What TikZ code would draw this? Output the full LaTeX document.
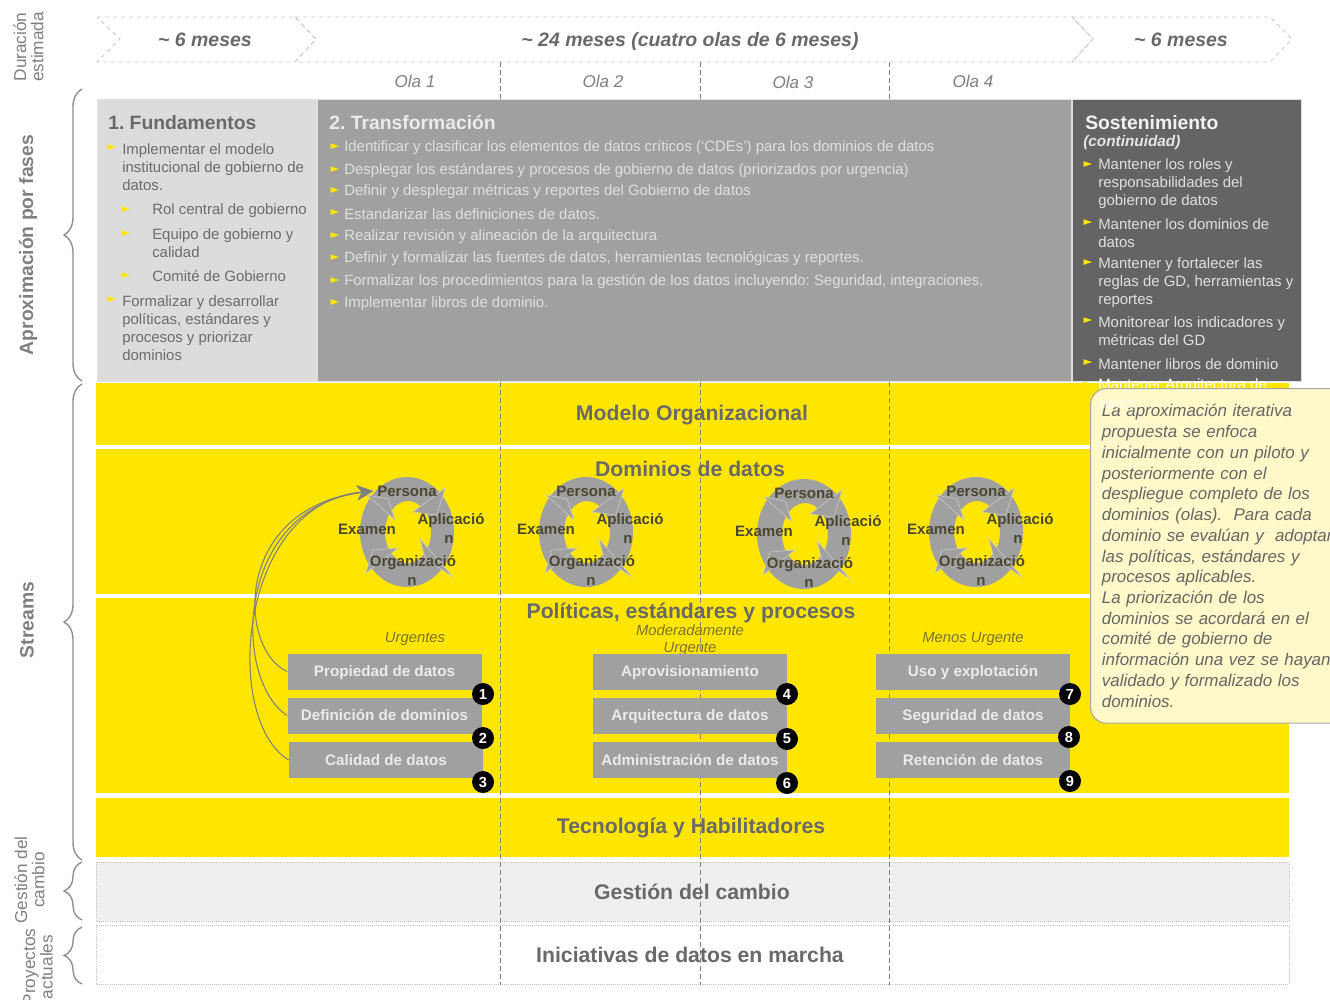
\documentclass[tikz,border=0pt]{standalone}
\usepackage{fontspec}
\setmainfont{Liberation Sans}
\newfontfamily\symfont{DejaVu Sans}
\usetikzlibrary{arrows.meta,decorations.pathreplacing}

\definecolor{bandyellow}{HTML}{FFE600}
\definecolor{phaselight}{HTML}{DCDCDC}
\definecolor{phasemid}{HTML}{A0A0A0}
\definecolor{phasedark}{HTML}{646464}
\definecolor{headgrey}{HTML}{696969}
\definecolor{sidegrey}{HTML}{7F7F7F}
\definecolor{changegrey}{HTML}{EFEFEF}
\definecolor{notefill}{HTML}{FFF9C9}
\definecolor{cycletext}{HTML}{4A4630}
\definecolor{urgtext}{HTML}{7A7235}

\tikzset{
  chevron/.style={draw=black!22,dashed,line width=0.6pt},
  durlabel/.style={font=\fontsize{14.6}{18}\selectfont\bfseries\itshape,text=headgrey},
  olalabel/.style={font=\fontsize{12.8}{15}\selectfont\itshape,text=sidegrey},
  phasebox/.style={draw=black!12,line width=0.6pt},
  phasehead/.style={anchor=west,inner sep=0pt,font=\fontsize{14.5}{18}\selectfont\bfseries},
  bul/.style={inner sep=0pt,text=bandyellow,font=\symfont\fontsize{8.5}{10}\selectfont},
  itemtext/.style={anchor=west,inner sep=0pt,align=left,font=\fontsize{11.2}{13.6}\selectfont},
  bandbox/.style={fill=bandyellow},
  linebox/.style={draw=black!25,densely dotted,line width=0.6pt},
  bandtitle/.style={font=\fontsize{15.9}{18}\selectfont\bfseries,text=headgrey},
  olaline/.style={draw=black!50,dash pattern=on 4pt off 2pt,line width=0.7pt},
  stepbox/.style={fill=phasemid,text=white!92!black,inner sep=0pt,minimum width=145.5pt,minimum height=27pt,text height=8pt,text depth=0pt,font=\fontsize{11.4}{13}\selectfont\bfseries},
  badge/.style={circle,fill=black,text=white,inner sep=0pt,minimum size=16.5pt,font=\fontsize{11}{13}\selectfont\bfseries},
  urglabel/.style={text=urgtext,inner sep=0pt,font=\fontsize{11.1}{13}\selectfont\itshape},
  cyclelabel/.style={text=cycletext,inner sep=0pt,font=\fontsize{11.3}{13}\selectfont\bfseries},
  wedge/.style={fill=phasemid,draw=black!20,line width=0.4pt,line join=miter},
  feedline/.style={draw=black!50,line width=0.8pt,-{Stealth[length=12pt,width=11pt]}},
  sidelabel/.style={rotate=90,align=center,text=sidegrey,inner sep=0pt,font=\fontsize{12.9}{13}\selectfont},
  sidehead/.style={rotate=90,text=sidegrey,inner sep=0pt,font=\fontsize{14.5}{16}\selectfont\bfseries},
  sidebrace/.style={draw=black!45,line width=1pt,decorate,decoration={brace,amplitude=13.5pt}},
  notebox/.style={anchor=north west,draw=black!35,line width=0.8pt,rounded corners=12pt,fill=notefill,
    minimum width=183pt,minimum height=251pt,inner xsep=8.5pt,align=left,text=black!60,
    text width=190pt,font=\fontsize{12.7}{15.55}\selectfont\itshape}
}

% one cycle: ring, four wedges, four words
\newcommand{\ringcycle}[3]{
\begin{scope}[shift={(#1,#2)}]
\fill[phasemid,even odd rule] (0,0) ellipse [x radius=47,y radius=55] (1,0) ellipse [x radius=23,y radius=31];
\path[wedge] (38,-44) -- (6,-20) -- (30,-17) -- cycle;
\path[wedge] (-40,-37) -- (-19,-33) -- (-12,-12) -- cycle;
\path[wedge] (-41,41) -- (-34,18) -- (-9,16) -- cycle;
\path[wedge] (46,45) -- (13,7) -- (18,26) -- cycle;
\path[draw] (0,-41) node[cyclelabel] (#3per) {Persona};
\path[draw] (44,-11) node[cyclelabel] (#3apl) {Aplicació};
\path[draw] (42,7) node[cyclelabel] (#3apn) {n};
\path[draw] (-40,-3) node[cyclelabel] (#3exa) {Examen};
\path[draw] (6,31) node[cyclelabel] (#3org) {Organizació};
\path[draw] (5,49) node[cyclelabel] (#3orn) {n};
\end{scope}
}

\begin{document}
\begin{tikzpicture}[x=0.75pt,y=-0.75pt]
\frenchspacing
\useasboundingbox (0,0) rectangle (1330,999);

%%% DURATION
\path[chevron] (97,17) -- (295,17) -- (316,39) -- (295,62) -- (97,62) -- (120,39) -- cycle;
\path[chevron] (295,17) -- (1072,17) -- (1093,39) -- (1072,62) -- (295,62) -- (316,39) -- cycle;
\path[chevron] (1072,17) -- (1270,17) -- (1292,39) -- (1270,62) -- (1072,62) -- (1093,39) -- cycle;
\path[draw] (205,40) node[durlabel] (nodeDurA) {\textasciitilde\ 6 meses};
\path[draw] (690,41) node[durlabel] (nodeDurB) {\textasciitilde\ 24 meses (cuatro olas de 6 meses)};
\path[draw] (1181,40) node[durlabel] (nodeDurC) {\textasciitilde\ 6 meses};
\path[draw] (415,81) node[olalabel] (nodeOlaA) {Ola 1};
\path[draw] (603,81) node[olalabel] (nodeOlaB) {Ola 2};
\path[draw] (793,82) node[olalabel] (nodeOlaC) {Ola 3};
\path[draw] (973,81) node[olalabel] (nodeOlaD) {Ola 4};

%%% STREAM BANDS
\path[bandbox] (96,383) rectangle (1289,445);
\path[bandbox] (96,449) rectangle (1289,594);
\path[bandbox] (96,598) rectangle (1289,793);
\path[bandbox] (96,798) rectangle (1289,857);
\path[linebox,fill=changegrey] (96,862) rectangle (1289,921);
\path[linebox,fill=white] (96,925) rectangle (1289,984);

%%% WAVE LINES
\coordinate (lineAtop) at (500.5,62);
\coordinate (lineAbot) at (500.5,985);
\coordinate (lineBtop) at (700,62);
\coordinate (lineBbot) at (700,985);
\coordinate (lineCtop) at (889.5,62);
\coordinate (lineCbot) at (889.5,985);
\path[olaline] (lineAtop) -- (lineAbot);
\path[olaline] (lineBtop) -- (lineBbot);
\path[olaline] (lineCtop) -- (lineCbot);

%%% PHASE 1
\path[phasebox,fill=phaselight] (97,99) rectangle (316.5,381);
\path[draw] (108,123) node[phasehead,text=headgrey] (nodeFund) {1. Fundamentos};
\path[draw] (112,148) node[bul] (bulFa) {►};
\path[draw] (122,167.5) node[itemtext,text=black!58] (itemFa) {Implementar el modelo\\institucional de gobierno de\\datos.};
\path[draw] (126,210) node[bul] (bulFb) {►};
\path[draw] (152,210.5) node[itemtext,text=black!58] (itemFb) {Rol central de gobierno};
\path[draw] (126,234) node[bul] (bulFc) {►};
\path[draw] (152,243.5) node[itemtext,text=black!58] (itemFc) {Equipo de gobierno y\\calidad};
\path[draw] (126,276) node[bul] (bulFd) {►};
\path[draw] (152,276.5) node[itemtext,text=black!58] (itemFd) {Comité de Gobierno};
\path[draw] (112,300) node[bul] (bulFe) {►};
\path[draw] (122,328) node[itemtext,text=black!58] (itemFe) {Formalizar y desarrollar\\políticas, estándares y\\procesos y priorizar\\dominios};

%%% PHASE 2
\path[phasebox,fill=phasemid] (317.5,99) rectangle (1071,381);
\path[draw] (329,123) node[phasehead,text=white!92!black] (nodeTrans) {2. Transformación};
\path[draw] (335,147) node[bul] (bulTa) {►};
\path[draw] (344,148) node[itemtext,text=white!88!black] (itemTa) {Identificar y clasificar los elementos de datos críticos (‘CDEs’) para los dominios de datos};
\path[draw] (335,170) node[bul] (bulTb) {►};
\path[draw] (344,171) node[itemtext,text=white!88!black] (itemTb) {Desplegar los estándares y procesos de gobierno de datos (priorizados por urgencia)};
\path[draw] (335,191) node[bul] (bulTc) {►};
\path[draw] (344,192) node[itemtext,text=white!88!black] (itemTc) {Definir y desplegar métricas y reportes del Gobierno de datos};
\path[draw] (335,213) node[bul] (bulTd) {►};
\path[draw] (344,214) node[itemtext,text=white!88!black] (itemTd) {Estandarizar las definiciones de datos.};
\path[draw] (335,236) node[bul] (bulTe) {►};
\path[draw] (344,237) node[itemtext,text=white!88!black] (itemTe) {Realizar revisión y alineación de la arquitectura};
\path[draw] (335,258) node[bul] (bulTf) {►};
\path[draw] (344,259) node[itemtext,text=white!88!black] (itemTf) {Definir y formalizar las fuentes de datos, herramientas tecnológicas y reportes.};
\path[draw] (335,281) node[bul] (bulTg) {►};
\path[draw] (344,282) node[itemtext,text=white!88!black] (itemTg) {Formalizar los procedimientos para la gestión de los datos incluyendo: Seguridad, integraciones,};
\path[draw] (335,303) node[bul] (bulTh) {►};
\path[draw] (344,304) node[itemtext,text=white!88!black] (itemTh) {Implementar libros de dominio.};

%%% PHASE 3
\path[phasebox,fill=phasedark] (1072,99) rectangle (1301,381);
\path[draw] (1085,123) node[phasehead,text=white!95!black] (nodeSost) {Sostenimiento};
\path[draw] (1083,143) node[itemtext,text=white!90!black,font=\fontsize{11.5}{13}\selectfont\bfseries\itshape] (nodeCont) {(continuidad)};
\path[draw] (1088,165) node[bul] (bulSa) {►};
\path[draw] (1098,184) node[itemtext,text=white!88!black] (itemSa) {Mantener los roles y\\responsabilidades del\\gobierno de datos};
\path[draw] (1088,223) node[bul] (bulSb) {►};
\path[draw] (1098,233) node[itemtext,text=white!88!black] (itemSb) {Mantener los dominios de\\datos};
\path[draw] (1088,263) node[bul] (bulSc) {►};
\path[draw] (1098,282.5) node[itemtext,text=white!88!black] (itemSc) {Mantener y fortalecer las\\reglas de GD, herramientas y\\reportes};
\path[draw] (1088,321) node[bul] (bulSd) {►};
\path[draw] (1098,331.5) node[itemtext,text=white!88!black] (itemSd) {Monitorear los indicadores y\\métricas del GD};
\path[draw] (1088,363) node[bul] (bulSe) {►};
\path[draw] (1098,364) node[itemtext,text=white!88!black] (itemSe) {Mantener libros de dominio};
\path[draw] (1088,385) node[bul] (bulSf) {►};
\path[draw] (1098,385.5) node[itemtext,text=white] (itemSf) {Mantener Arquitectura de};

%%% BAND TITLES
\path[draw] (692,415) node[bandtitle] (nodeModelo) {Modelo Organizacional};
\path[draw] (690,469) node[bandtitle] (nodeDom) {Dominios de datos};
\path[draw] (691,613) node[bandtitle] (nodePol) {Políticas, estándares y procesos};
\path[draw] (691,828) node[bandtitle] (nodeTec) {Tecnología y Habilitadores};
\path[draw] (692,892) node[bandtitle] (nodeCambio) {Gestión del cambio};
\path[draw] (690,955) node[bandtitle] (nodeIni) {Iniciativas de datos en marcha};

%%% CYCLES
\ringcycle{407}{532}{cycA}
\ringcycle{586}{532}{cycB}
\ringcycle{804}{534}{cycC}
\ringcycle{976}{532}{cycD}

%%% DOMAIN BOXES
\path[draw] (415,639) node[urglabel] (nodeUrgA) {Urgentes};
\path[draw] (690,640) node[urglabel,align=center] (nodeUrgB) {Moderadamente\\Urgente};
\path[draw] (973,639) node[urglabel] (nodeUrgC) {Menos Urgente};

\path[draw] (384.5,671.5) node[stepbox] (nodeProp) {Propiedad de datos};
\path[draw] (384.5,715.5) node[stepbox] (nodeDef) {Definición de dominios};
\path[draw] (386,760) node[stepbox] (nodeCal) {Calidad de datos};
\path[draw] (690,671.5) node[stepbox] (nodeApr) {Aprovisionamiento};
\path[draw] (690,715.5) node[stepbox] (nodeArq) {Arquitectura de datos};
\path[draw] (690,760) node[stepbox] (nodeAdm) {Administración de datos};
\path[draw] (973,671.5) node[stepbox] (nodeUso) {Uso y explotación};
\path[draw] (973,715.5) node[stepbox] (nodeSeg) {Seguridad de datos};
\path[draw] (973,760) node[stepbox] (nodeRet) {Retención de datos};

\path[draw] (483,694) node[badge] (badgeA) {1};
\path[draw] (483,738) node[badge] (badgeB) {2};
\path[draw] (483,782) node[badge] (badgeC) {3};
\path[draw] (787,694) node[badge] (badgeD) {4};
\path[draw] (787,739) node[badge] (badgeE) {5};
\path[draw] (787,783) node[badge] (badgeF) {6};
\path[draw] (1070,694) node[badge] (badgeG) {7};
\path[draw] (1069,737) node[badge] (badgeH) {8};
\path[draw] (1070,781) node[badge] (badgeI) {9};

%%% FEEDBACK ARROWS
\coordinate (tipCyc) at (373,491);
\path[feedline] (nodeProp.west) .. controls (238,650) and (232,508) .. (tipCyc);
\path[feedline] (nodeDef.west) .. controls (232,680) and (234,508) .. (tipCyc);
\path[feedline] (nodeCal.west) .. controls (222,720) and (238,503) .. (tipCyc);

%%% NOTE
\path[draw] (1090,388) node[notebox] (nodeNote) {La aproximación iterativa\\propuesta se enfoca\\inicialmente con un piloto y\\posteriormente con el\\despliegue completo de los\\dominios (olas).~ Para cada\\dominio se evalúan y~ adoptan\\las políticas, estándares y\\procesos aplicables.\\La priorización de los\\dominios se acordará en el\\comité de gobierno de\\información una vez se hayan\\validado y formalizado los\\dominios.};
\path[draw] (1098,403) node[itemtext,text=white,text opacity=0.6] (itemSg) {datos};

%%% LEFT SIDE
\path[draw] (28.5,47) node[sidelabel] (nodeDur) {Duración\\estimada};
\path[draw] (28,245) node[sidehead] (nodeAprox) {Aproximación por fases};
\path[draw] (27,620) node[sidehead] (nodeStreams) {Streams};
\path[draw] (29.5,880) node[sidelabel] (nodeGes) {Gestión del\\cambio};
\path[draw] (38,967) node[sidelabel] (nodePro) {Proyectos\\actuales};
\path[sidebrace] (82,381) -- (82,89);
\path[sidebrace] (82,860) -- (82,384);
\path[sidebrace] (82,920) -- (82,862);
\path[sidebrace] (82,984) -- (82,927);
\end{tikzpicture}
\end{document}
